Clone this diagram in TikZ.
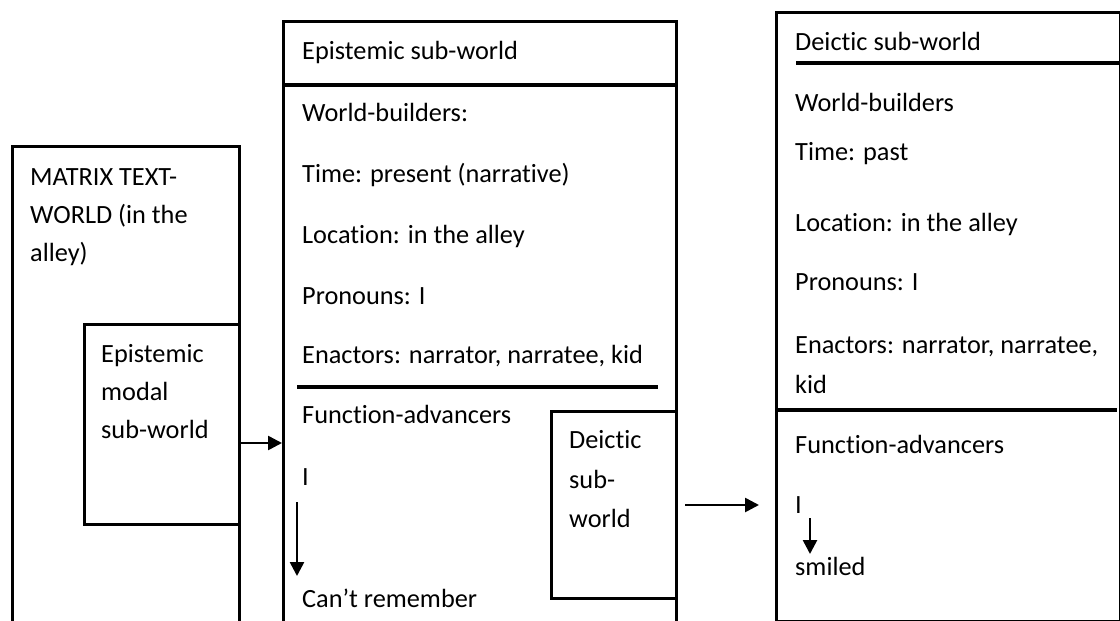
\documentclass[tikz,border=0pt]{standalone}
\usepackage{fontspec}
\setmainfont[Ligatures=NoCommon]{Carlito}
\usetikzlibrary{arrows.meta}
\begin{document}
\begin{tikzpicture}[x=1pt,y=-1pt,
  box/.style={draw,line width=3pt,inner sep=0pt,anchor=north west},
  txt/.style={inner sep=0pt,anchor=base west,font=\fontsize{26.3}{31}\selectfont},
  rule/.style={line width=3.2pt},
  arr/.style={line width=2.6pt,-{Triangle[length=14pt,width=14pt]}}]
\useasboundingbox (0,0) rectangle (1120,621);
\clip (0,0) rectangle (1120,621);

% outer frames
\node[box,minimum width=227pt,minimum height=520pt] (matrix) at (11,145) {};
\node[box,minimum width=155pt,minimum height=200pt] (ems) at (83,323) {};
\node[box,minimum width=393pt,minimum height=640pt] (mid) at (282,20) {};
\node[box,minimum width=125pt,minimum height=187pt] (deic) at (550,410) {};
\node[box,minimum width=344pt,minimum height=609pt] (right) at (775,11) {};

% section rules
\draw[rule] (282,85) -- (675,85);
\draw[rule] (297,387) -- (658,387);
\draw[rule] (796,63) -- (1125,63);
\draw[rule] (775,410) -- (1117,410);

% matrix text-world
\node[txt] (t1) at (30,185) {MATRIX TEXT-};
\node[txt] (t2) at (30,223) {WORLD (in the};
\node[txt] (t3) at (30,261) {alley)};

% epistemic modal sub-world
\node[txt] (e1) at (101,362) {Epistemic};
\node[txt] (e2) at (101,400) {modal};
\node[txt] (e3) at (101,438) {sub-world};

% epistemic sub-world
\node[txt] (m1) at (302,59) {Epistemic sub-world};
\node[txt] (m2) at (302,121) {World-builders:};
\node[txt] (m3) at (302,182) {Time: present (narrative)};
\node[txt] (m4) at (302,243) {Location: in the alley};
\node[txt] (m5) at (302,304) {Pronouns: I};
\node[txt] (m6) at (302,363) {Enactors: narrator, narratee, kid};
\node[txt] (m7) at (302,423) {Function-advancers};
\node[txt] (mI) at (302,485) {I};
\node[txt] (mC) at (302,607) {Can’t remember};

% deictic sub-world (inner)
\node[txt] (d1) at (569,448) {Deictic};
\node[txt] (d2) at (569,488) {sub-};
\node[txt] (d3) at (569,527) {world};

% deictic sub-world (right)
\node[txt] (r1) at (795,50) {Deictic sub-world};
\node[txt] (r2) at (795,111) {World-builders};
\node[txt] (r3) at (795,160) {Time: past};
\node[txt] (r4) at (795,231) {Location: in the alley};
\node[txt] (r5) at (795,290) {Pronouns: I};
\node[txt] (r6) at (795,353) {Enactors: narrator, narratee,};
\node[txt] (r7) at (795,393) {kid};
\node[txt] (r8) at (795,453) {Function-advancers};
\node[txt] (rI) at (795,513) {I};
\node[txt] (rS) at (795,575) {smiled};

% connectors
\coordinate (a1) at (238,443);
\draw[arr] (a1) -- (a1 -| mid.west);
\draw[arr,shorten <=7pt,shorten >=16pt] (deic.east) -- (deic.east -| right.west);
\coordinate (s1) at (297,502);
\coordinate (s2) at (297,576);
\draw[arr] (s1) -- (s2);
\coordinate (q1) at (810,518);
\coordinate (q2) at (810,554);
\draw[arr] (q1) -- (q2);
\end{tikzpicture}
\end{document}
